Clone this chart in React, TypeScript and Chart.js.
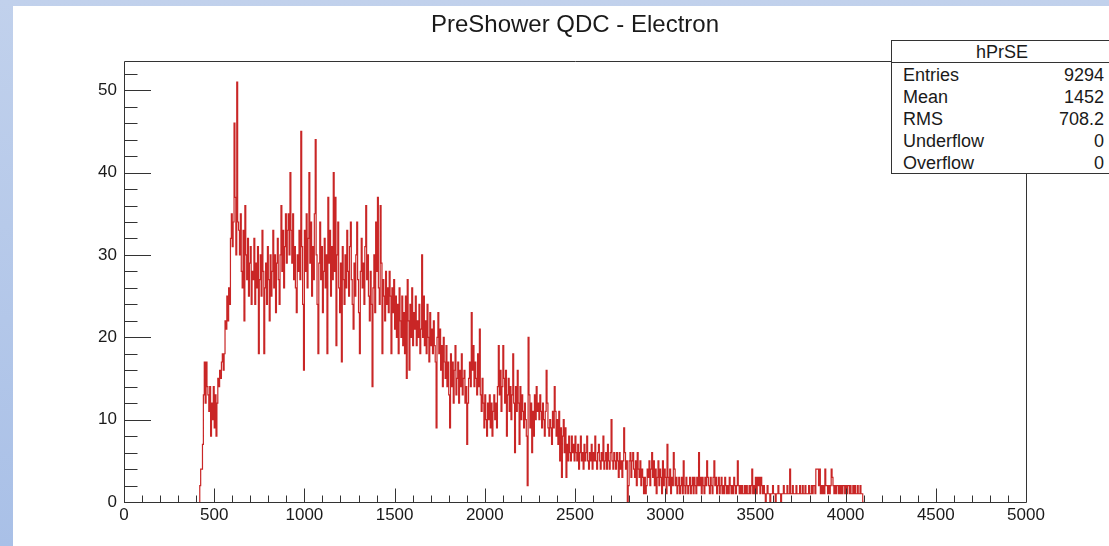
import React, { useEffect, useRef } from "react";
import { Chart, registerables } from "chart.js";

Chart.register(...registerables);

const TITLE = "PreShower QDC - Electron";
const X_MIN = 0;
const X_MAX = 5000;
const Y_MIN = 0;
const Y_MAX = 53.55;
const X_MAJOR = 500;
const X_MINOR = 100;
const Y_MAJOR = 10;
const Y_MINOR = 2;
const BIN_WIDTH = 5;
const FIRST_BIN = 420;

// counts per 5-unit bin, starting at FIRST_BIN (one row = 100 units)
const counts = [
  1, 2, 4, 4, 7, 13, 17, 12, 17, 14, 13, 11, 14, 8, 12, 10, 14, 9, 13, 8,
  12, 15, 14, 16, 15, 17, 18, 16, 18, 22, 21, 25, 22, 26, 24, 32, 35, 31, 34, 46,
  37, 30, 51, 34, 33, 30, 35, 28, 26, 33, 22, 36, 30, 27, 32, 25, 29, 31, 24, 28,
  27, 32, 24, 29, 26, 31, 18, 27, 30, 25, 33, 28, 18, 26, 29, 24, 31, 27, 22, 30,
  25, 28, 33, 26, 30, 23, 29, 32, 27, 24, 30, 36, 28, 33, 26, 31, 35, 29, 33, 35,
  30, 40, 33, 29, 35, 27, 31, 26, 23, 30, 28, 33, 27, 45, 31, 24, 16, 33, 28, 35,
  26, 32, 40, 29, 34, 25, 31, 27, 35, 44, 30, 24, 18, 29, 34, 27, 31, 23, 28, 32,
  26, 30, 18, 37, 29, 33, 25, 31, 27, 40, 28, 37, 19, 30, 34, 26, 23, 29, 17, 31,
  27, 24, 30, 26, 33, 28, 25, 31, 34, 27, 24, 21, 29, 25, 30, 34, 27, 23, 18, 28,
  32, 26, 29, 24, 31, 36, 27, 30, 25, 22, 28, 24, 14, 26, 30, 23, 34, 28, 37, 26,
  24, 36, 29, 18, 27, 25, 22, 28, 24, 26, 23, 28, 25, 18, 26, 23, 27, 21, 25, 20,
  24, 18, 26, 22, 20, 25, 19, 23, 18, 25, 15, 27, 22, 16, 24, 20, 26, 19, 23, 21,
  25, 19, 22, 20, 24, 18, 21, 30, 20, 25, 19, 22, 18, 24, 20, 17, 23, 19, 21, 18,
  22, 19, 17, 9, 20, 23, 18, 21, 16, 19, 14, 20, 17, 15, 19, 14, 17, 13, 9, 18,
  14, 17, 12, 16, 19, 13, 15, 17, 12, 16, 14, 18, 13, 15, 16, 12, 14, 7, 12, 15,
  17, 14, 23, 16, 19, 14, 17, 15, 13, 18, 14, 21, 13, 11, 15, 12, 9, 13, 10, 8,
  12, 10, 13, 9, 12, 8, 11, 13, 10, 12, 9, 14, 19, 13, 16, 11, 14, 19, 15, 12,
  16, 8, 13, 15, 11, 14, 10, 13, 18, 12, 6, 14, 11, 16, 12, 7, 14, 10, 13, 11,
  9, 12, 10, 8, 2, 20, 13, 9, 12, 6, 11, 8, 13, 10, 14, 11, 12, 10, 13, 11,
  9, 12, 10, 8, 11, 16, 12, 9, 8, 10, 9, 7, 11, 9, 14, 11, 8, 10, 7, 11,
  5, 9, 3, 8, 10, 6, 9, 3, 7, 5, 8, 6, 5, 8, 6, 7, 5, 8, 6, 5,
  7, 4, 6, 8, 5, 6, 4, 7, 5, 6, 8, 5, 4, 6, 5, 7, 4, 6, 5, 8,
  5, 4, 6, 7, 5, 4, 6, 5, 8, 4, 5, 6, 4, 7, 5, 4, 6, 10, 5, 4,
  6, 5, 4, 6, 5, 3, 6, 4, 5, 3, 5, 9, 6, 4, 5, 0, 2, 5, 6, 3,
  5, 6, 4, 3, 5, 2, 6, 4, 3, 5, 2, 4, 3, 1, 3, 1, 2, 4, 3, 5,
  2, 4, 6, 3, 5, 2, 4, 1, 3, 5, 2, 4, 3, 1, 5, 2, 4, 3, 1, 7,
  3, 2, 4, 1, 3, 2, 6, 4, 2, 3, 1, 2, 3, 1, 2, 3, 1, 5, 2, 1,
  3, 2, 1, 2, 3, 1, 2, 3, 1, 3, 2, 1, 3, 2, 6, 2, 3, 1, 3, 2,
  1, 3, 2, 5, 3, 2, 1, 3, 2, 1, 3, 5, 2, 3, 1, 2, 3, 1, 2, 3,
  1, 2, 1, 3, 2, 1, 2, 1, 3, 2, 1, 2, 1, 3, 2, 1, 2, 5, 2, 1,
  2, 1, 2, 1, 1, 2, 1, 2, 1, 1, 2, 1, 2, 4, 1, 2, 1, 3, 1, 3,
  2, 3, 1, 3, 2, 1, 2, 1, 0, 1, 2, 1, 1, 0, 1, 1, 2, 1, 1, 0,
  1, 1, 2, 1, 1, 0, 1, 1, 2, 1, 1, 1, 2, 1, 1, 4, 1, 1, 2, 1,
  1, 1, 2, 1, 1, 1, 2, 1, 1, 2, 1, 1, 2, 1, 1, 1, 2, 1, 1, 2,
  1, 2, 2, 1, 4, 4, 4, 2, 4, 1, 2, 1, 2, 1, 4, 2, 2, 1, 2, 1,
  2, 4, 3, 2, 1, 2, 1, 2, 2, 1, 2, 1, 2, 1, 2, 2, 1, 2, 1, 2,
  2, 1, 2, 1, 1, 2, 1, 2, 1, 1, 2, 1, 1, 2, 1, 1,
];

const STATS_NAME = "hPrSE";
const statLabels = ["Entries", "Mean", "RMS", "Underflow", "Overflow"];
const statValues = ["9294", "1452", "708.2", "0", "0"];

const FONT = '"Liberation Sans", Arial, Helvetica, sans-serif';
const LINE_COLOR = "#c92626";
const AXIS_COLOR = "#333333";

const decorPlugin = {
  id: "rootDecor",
  beforeDraw(chart: any) {
    const { ctx, width, height } = chart;
    ctx.save();
    const g = ctx.createLinearGradient(0, 0, 0, height);
    g.addColorStop(0, "#c1d1ec");
    g.addColorStop(1, "#a9c0e7");
    ctx.fillStyle = g;
    ctx.fillRect(0, 0, width, height);
    ctx.fillStyle = "#ffffff";
    ctx.fillRect(13, 6, width - 13, height - 6);
    ctx.restore();
  },
  afterDraw(chart: any) {
    const { ctx, chartArea } = chart;
    const xs = chart.scales.x;
    const ys = chart.scales.y;
    const { left, right, top, bottom } = chartArea;
    ctx.save();
    ctx.strokeStyle = AXIS_COLOR;
    ctx.lineWidth = 1;
    ctx.beginPath();
    ctx.rect(Math.round(left) + 0.5, Math.round(top) + 0.5, Math.round(right - left), Math.round(bottom - top));
    ctx.stroke();
    ctx.beginPath();
    for (let v = Y_MIN; v <= Y_MAX + 1e-6; v += Y_MINOR) {
      const major = Math.abs(v / Y_MAJOR - Math.round(v / Y_MAJOR)) < 1e-6;
      const y = Math.round(ys.getPixelForValue(v)) + 0.5;
      ctx.moveTo(left, y);
      ctx.lineTo(left + (major ? 27 : 13.5), y);
    }
    for (let v = X_MIN; v <= X_MAX + 1e-6; v += X_MINOR) {
      const major = Math.abs(v / X_MAJOR - Math.round(v / X_MAJOR)) < 1e-6;
      const x = Math.round(xs.getPixelForValue(v)) + 0.5;
      ctx.moveTo(x, bottom);
      ctx.lineTo(x, bottom - (major ? 13.5 : 6.5));
    }
    ctx.stroke();
    ctx.restore();
  },
};

export default function App() {
  const canvasRef = useRef<HTMLCanvasElement | null>(null);

  useEffect(() => {
    const canvas = canvasRef.current;
    if (!canvas) return;
    const points: { x: number; y: number }[] = [{ x: FIRST_BIN, y: 0 }];
    counts.forEach((c, i) => points.push({ x: FIRST_BIN + i * BIN_WIDTH, y: c }));
    points.push({ x: FIRST_BIN + counts.length * BIN_WIDTH, y: 0 });

    const chart = new Chart(canvas, {
      type: "line",
      data: {
        datasets: [
          {
            label: "hPrSE",
            data: points,
            borderColor: LINE_COLOR,
            borderWidth: 1.2,
            pointRadius: 0,
            stepped: "after",
            fill: false,
            clip: 3,
          } as any,
        ],
      },
      options: {
        animation: false,
        responsive: false,
        devicePixelRatio: 1,
        parsing: false,
        normalized: true,
        events: [],
        layout: { padding: { left: 13, right: 83, top: 0, bottom: 0 } },
        plugins: {
          legend: { display: false },
          tooltip: { enabled: false },
          title: {
            display: true,
            fullSize: false,
            text: TITLE,
            color: "#1a1a1a",
            font: { family: FONT, size: 24, weight: "normal" as any, lineHeight: 1.2 },
            padding: { top: 10.5, bottom: 21.7 },
          },
        },
        scales: {
          x: {
            type: "linear",
            min: X_MIN,
            max: X_MAX,
            grid: { display: false, drawTicks: false },
            border: { display: false },
            ticks: {
              stepSize: X_MAJOR,
              includeBounds: false,
              autoSkip: false,
              maxRotation: 0,
              padding: 3,
              color: "#1a1a1a",
              font: { family: FONT, size: 17 },
              callback: (v: any) => String(v),
            },
            afterFit: (s: any) => {
              s.height = 44;
              s.paddingLeft = 0;
              s.paddingRight = 0;
            },
          },
          y: {
            type: "linear",
            min: Y_MIN,
            max: Y_MAX,
            grid: { display: false, drawTicks: false },
            border: { display: false },
            ticks: {
              stepSize: Y_MAJOR,
              includeBounds: false,
              autoSkip: false,
              padding: 7,
              color: "#1a1a1a",
              font: { family: FONT, size: 17 },
              callback: (v: any) => String(v),
            },
            afterFit: (s: any) => {
              s.width = 111;
              s.paddingTop = 0;
              s.paddingBottom = 0;
            },
          },
        },
      },
      plugins: [decorPlugin],
    });
    return () => chart.destroy();
  }, []);

  const rowH = 22;
  return (
    <div
      style={{
        position: "fixed",
        left: 0,
        top: 0,
        width: 1109,
        height: 546,
        overflow: "hidden",
        background: "#ffffff",
      }}
    >
      <canvas ref={canvasRef} width={1109} height={546} style={{ display: "block", width: 1109, height: 546 }} />
      <div
        style={{
          position: "absolute",
          left: 891,
          top: 40,
          width: 222,
          height: 134,
          boxSizing: "border-box",
          border: `1px solid ${AXIS_COLOR}`,
          background: "#ffffff",
          fontFamily: FONT,
          fontSize: 18,
          color: "#1a1a1a",
          overflow: "hidden",
        }}
      >
        <div
          style={{
            height: 21,
            lineHeight: "23px",
            textAlign: "center",
            borderBottom: `1px solid ${AXIS_COLOR}`,
          }}
        >
          {STATS_NAME}
        </div>
        {statLabels.map((lab, i) => (
          <div
            key={lab}
            style={{
              height: rowH,
              lineHeight: "24px",
              display: "flex",
              justifyContent: "space-between",
              padding: "0 8px 0 11px",
            }}
          >
            <span>{lab}</span>
            <span>{statValues[i]}</span>
          </div>
        ))}
      </div>
    </div>
  );
}
